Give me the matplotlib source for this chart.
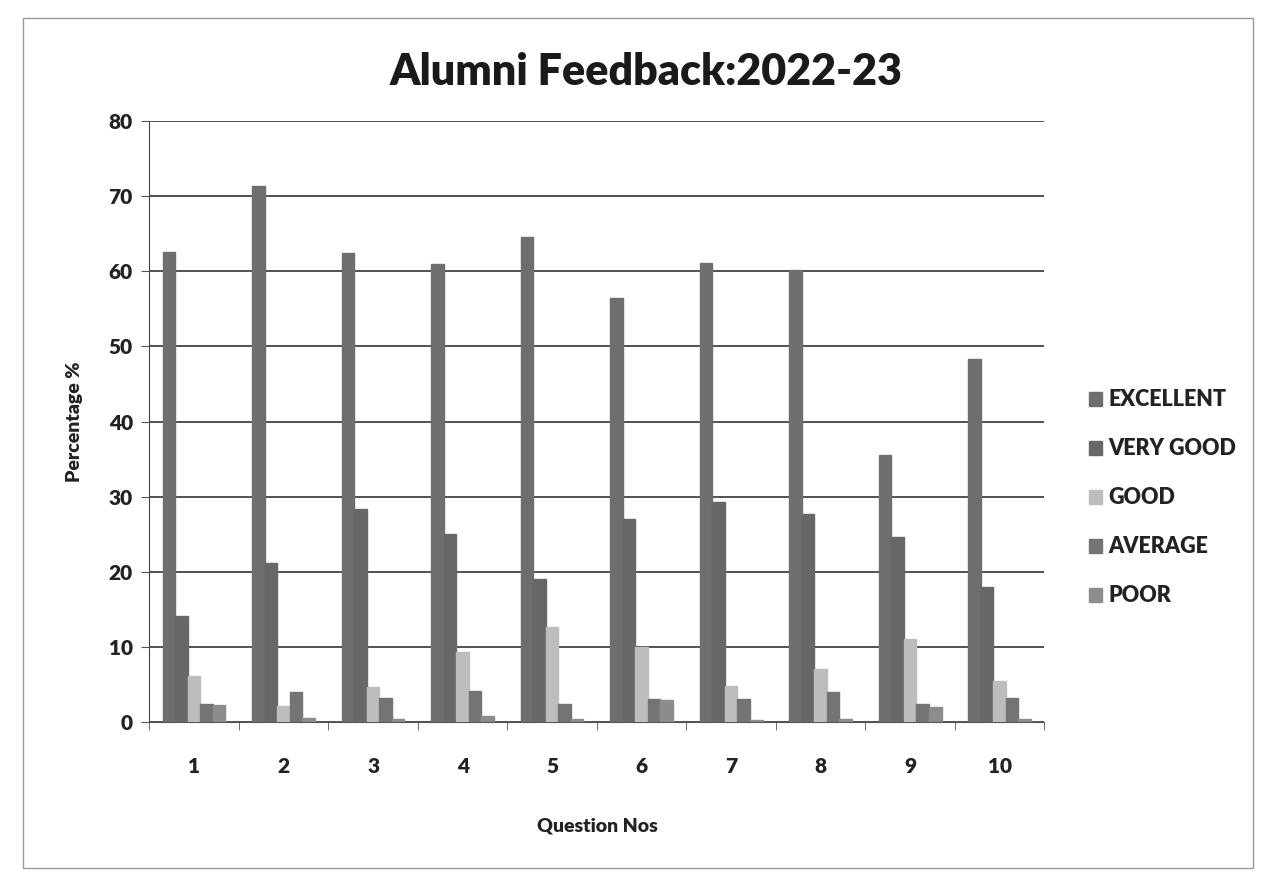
import matplotlib
matplotlib.use("Agg")
import matplotlib.pyplot as plt
import numpy as np
from matplotlib.patches import Rectangle

questions = ["1", "2", "3", "4", "5", "6", "7", "8", "9", "10"]
excellent = [62.5, 71.3, 62.4, 61.0, 64.5, 56.4, 61.1, 60.1, 35.6, 48.3]
very_good = [14.2, 21.2, 28.4, 25.1, 19.1, 27.1, 29.3, 27.7, 24.6, 18.0]
good = [6.2, 2.2, 4.7, 9.3, 12.7, 10.0, 4.8, 7.1, 11.1, 5.5]
average = [2.4, 4.0, 3.2, 4.2, 2.4, 3.1, 3.1, 4.0, 2.4, 3.2]
poor = [2.3, 0.6, 0.5, 0.8, 0.5, 3.0, 0.3, 0.5, 2.0, 0.5]

series_names = ["EXCELLENT", "VERY GOOD", "GOOD", "AVERAGE", "POOR"]
series_vals = [excellent, very_good, good, average, poor]
colors = ["#6e6e6e", "#676767", "#bdbdbd", "#747474", "#8c8c8c"]

plt.rcParams['font.family'] = ['Lato', 'DejaVu Sans']

fig = plt.figure(figsize=(12.66, 8.81), dpi=100)
ax = fig.add_axes([0.118, 0.180, 0.707, 0.683])

x = np.arange(len(questions))
w = 0.14
for i, (name, vals, c) in enumerate(zip(series_names, series_vals, colors)):
    ax.bar(x + (i - 2) * w, vals, width=w, color=c, edgecolor=c, label=name, zorder=3)

ax.set_xlim(-0.5, len(questions) - 0.5)
ax.set_ylim(0, 80)
ax.set_yticks(np.arange(0, 81, 10))
ax.set_xticks(x)
ax.set_xticklabels(questions)
ax.set_xticks(np.arange(-0.5, len(questions), 1), minor=True)
ax.tick_params(axis='x', which='major', length=0, pad=25, labelsize=15)
ax.tick_params(axis='x', which='minor', length=6, color='#555555')
ax.tick_params(axis='y', length=6, color='#555555', labelsize=15, pad=6)
for lab in ax.get_xticklabels() + ax.get_yticklabels():
    lab.set_fontweight('heavy')
    lab.set_color('#222222')

ax.grid(axis='y', color='#444444', linewidth=1.3, zorder=0)
for s in ['top', 'right']:
    ax.spines[s].set_visible(False)
ax.spines['left'].set_color('#444444')
ax.spines['bottom'].set_color('#555555')

ax.set_ylabel("Percentage %", fontsize=14, fontweight='heavy', color='#222222', labelpad=18)
ax.set_xlabel("Question Nos", fontsize=14, fontweight='heavy', color='#222222', labelpad=30)

fig.text(0.51, 0.918, "Alumni Feedback:2022-23", ha='center', va='center',
         fontsize=31, fontweight='heavy', color='#1a1a1a')

leg = fig.legend(loc='upper left', bbox_to_anchor=(0.845, 0.58), frameon=False,
                 handlelength=0.6, handleheight=0.6, handletextpad=0.3,
                 labelspacing=1.3, prop={'weight': 'heavy', 'size': 15.5})
for t in leg.get_texts():
    t.set_color('#222222')

fig.patches.append(Rectangle((0.018, 0.015), 0.972, 0.965, transform=fig.transFigure,
                             fill=False, edgecolor='#999999', linewidth=1.0))

fig.savefig("out.png", dpi=100)
